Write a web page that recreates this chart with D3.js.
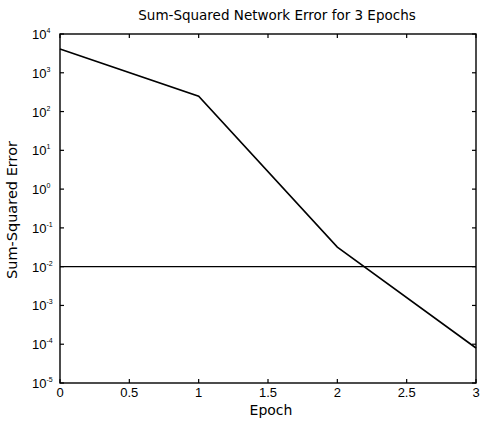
<!DOCTYPE html>
<html>
<head>
<meta charset="utf-8">
<script src="https://cdn.jsdelivr.net/npm/d3@7"></script>
<style>
  body { margin: 0; background: #fff; }
  svg { display: block; }
  text { font-family: "Liberation Sans", Arial, sans-serif; fill: #000; }
  .title { font-family: "DejaVu Sans", sans-serif; }
</style>
</head>
<body>
<svg id="chart" width="481" height="421"></svg>
<script>
// Training record: sum-squared error per epoch and the error goal
const epochs = [0, 1, 2, 3];
const sse = [4100, 250, 0.032, 0.00008];
const errorGoal = 0.01;
const xTicks = [0, 0.5, 1, 1.5, 2, 2.5, 3];
const yExponents = [4, 3, 2, 1, 0, -1, -2, -3, -4, -5];

const svg = d3.select("#chart");
const m = { left: 60, right: 476, top: 34, bottom: 383 };

const x = d3.scaleLinear().domain([0, 3]).range([m.left, m.right]);
const y = d3.scaleLog().domain([1e-5, 1e4]).range([m.bottom, m.top]);

const tickLen = 4;
const g = svg.append("g");

// Box
g.append("rect")
  .attr("x", m.left).attr("y", m.top)
  .attr("width", m.right - m.left).attr("height", m.bottom - m.top)
  .attr("fill", "none").attr("stroke", "#000").attr("stroke-width", 1.4);

// Inward ticks on all four sides
xTicks.forEach(t => {
  const px = x(t);
  g.append("line").attr("x1", px).attr("x2", px)
    .attr("y1", m.bottom).attr("y2", m.bottom - tickLen)
    .attr("stroke", "#000").attr("stroke-width", 1.2);
  g.append("line").attr("x1", px).attr("x2", px)
    .attr("y1", m.top).attr("y2", m.top + tickLen)
    .attr("stroke", "#000").attr("stroke-width", 1.2);
  g.append("text").attr("x", px).attr("y", m.bottom + 14)
    .attr("text-anchor", "middle").attr("font-size", 13)
    .text(String(t));
});

yExponents.forEach(e => {
  const py = y(Math.pow(10, e));
  g.append("line").attr("x1", m.left).attr("x2", m.left + tickLen)
    .attr("y1", py).attr("y2", py)
    .attr("stroke", "#000").attr("stroke-width", 1.2);
  g.append("line").attr("x1", m.right).attr("x2", m.right - tickLen)
    .attr("y1", py).attr("y2", py)
    .attr("stroke", "#000").attr("stroke-width", 1.2);
  const lbl = g.append("text").attr("x", 32).attr("y", py + 5)
    .attr("font-size", 13);
  lbl.append("tspan").text("10");
  lbl.append("tspan").attr("dy", -6).attr("font-size", 7).text(String(e));
});

// Error goal
g.append("line")
  .attr("x1", m.left).attr("x2", m.right)
  .attr("y1", y(errorGoal)).attr("y2", y(errorGoal))
  .attr("stroke", "#000").attr("stroke-width", 1.2);

// Error curve
const line = d3.line().x((d, i) => x(epochs[i])).y(d => y(d));
g.append("path").datum(sse)
  .attr("d", line)
  .attr("fill", "none").attr("stroke", "#000").attr("stroke-width", 1.6);

// Titles
svg.append("text").attr("class", "title").attr("x", 277).attr("y", 20)
  .attr("text-anchor", "middle").attr("font-size", 13.5)
  .text("Sum-Squared Network Error for 3 Epochs");
svg.append("text").attr("class", "title").attr("x", 271).attr("y", 415)
  .attr("text-anchor", "middle").attr("font-size", 14)
  .text("Epoch");
svg.append("text").attr("class", "title")
  .attr("transform", "translate(17,210) rotate(-90)")
  .attr("text-anchor", "middle").attr("font-size", 14.5)
  .text("Sum-Squared Error");
</script>
</body>
</html>
